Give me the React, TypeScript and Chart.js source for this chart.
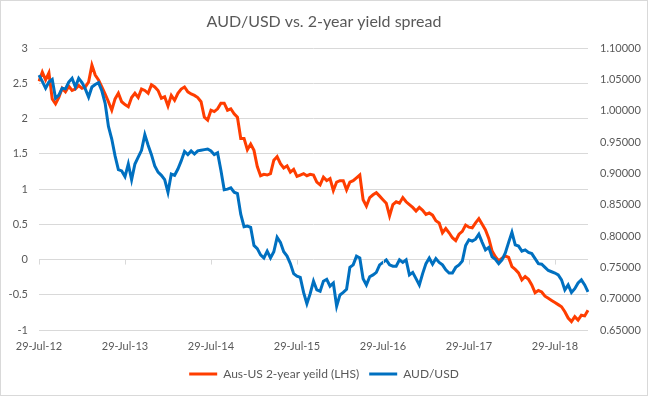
import React, { useEffect, useRef } from 'react';
import { Chart, registerables } from 'chart.js';

Chart.register(...registerables);

// Year tick labels shown on the x axis (every 26 bi-weekly observations)
const tickLabels = ['29-Jul-12', '29-Jul-13', '29-Jul-14', '29-Jul-15', '29-Jul-16', '29-Jul-17', '29-Jul-18'];
const pointsPerTick = 26;

// Aus-US 2-year yield spread (LHS), bi-weekly
const spread = [
  2.53, 2.66, 2.55, 2.65, 2.28, 2.21, 2.30, 2.43, 2.38, 2.46,
  2.40, 2.42, 2.47, 2.43, 2.45, 2.52, 2.76, 2.62, 2.55, 2.45,
  2.35, 2.24, 2.12, 2.28, 2.36, 2.24, 2.20, 2.17, 2.30, 2.36,
  2.30, 2.42, 2.40, 2.36, 2.48, 2.45, 2.40, 2.29, 2.31, 2.18,
  2.33, 2.26, 2.36, 2.42, 2.45, 2.38, 2.35, 2.33, 2.30, 2.24,
  2.02, 1.98, 2.12, 2.10, 2.14, 2.22, 2.22, 2.12, 2.14, 2.07,
  2.02, 1.72, 1.72, 1.56, 1.64, 1.55, 1.32, 1.19, 1.21, 1.20,
  1.22, 1.41, 1.46, 1.36, 1.30, 1.33, 1.24, 1.28, 1.18, 1.20,
  1.22, 1.19, 1.21, 1.20, 1.10, 1.06, 1.17, 1.12, 1.15, 0.98,
  1.10, 1.12, 1.12, 0.99, 1.10, 1.12, 1.16, 1.20, 0.85, 0.76,
  0.88, 0.92, 0.95, 0.90, 0.85, 0.80, 0.62, 0.78, 0.82, 0.80,
  0.88, 0.82, 0.78, 0.74, 0.69, 0.74, 0.70, 0.64, 0.66, 0.63,
  0.55, 0.52, 0.38, 0.44, 0.38, 0.31, 0.27, 0.36, 0.40, 0.49,
  0.46, 0.45, 0.52, 0.58, 0.50, 0.42, 0.30, 0.12, 0.04, -0.02,
  0.02, 0.05, 0.03, -0.10, -0.14, -0.19, -0.29, -0.24, -0.28, -0.36,
  -0.47, -0.44, -0.46, -0.52, -0.55, -0.58, -0.61, -0.64, -0.67, -0.74,
  -0.83, -0.88, -0.81, -0.86, -0.79, -0.80, -0.72,
];

// AUD/USD (RHS), bi-weekly
const audusd = [
  1.057, 1.047, 1.036, 1.046, 1.050, 1.020, 1.025, 1.036, 1.035, 1.046,
  1.052, 1.038, 1.052, 1.045, 1.035, 1.022, 1.038, 1.042, 1.045, 1.032,
  1.012, 0.975, 0.955, 0.928, 0.906, 0.904, 0.895, 0.915, 0.890, 0.915,
  0.926, 0.937, 0.962, 0.945, 0.930, 0.912, 0.902, 0.897, 0.890, 0.870,
  0.899, 0.897, 0.907, 0.920, 0.935, 0.930, 0.936, 0.931, 0.936, 0.937,
  0.938, 0.939, 0.936, 0.930, 0.933, 0.905, 0.874, 0.875, 0.877, 0.870,
  0.868, 0.835, 0.815, 0.816, 0.814, 0.785, 0.780, 0.770, 0.765, 0.776,
  0.765, 0.775, 0.798, 0.790, 0.775, 0.768, 0.756, 0.740, 0.736, 0.734,
  0.710, 0.692, 0.708, 0.728, 0.714, 0.712, 0.728, 0.731, 0.720, 0.725,
  0.688, 0.706, 0.710, 0.715, 0.750, 0.754, 0.768, 0.765, 0.732, 0.722,
  0.735, 0.738, 0.742, 0.754, 0.758, 0.762, 0.754, 0.752, 0.752, 0.762,
  0.758, 0.762, 0.738, 0.742, 0.732, 0.722, 0.740, 0.756, 0.765, 0.755,
  0.764, 0.758, 0.754, 0.746, 0.741, 0.741, 0.750, 0.754, 0.760, 0.785,
  0.794, 0.792, 0.795, 0.803, 0.790, 0.778, 0.782, 0.767, 0.763, 0.756,
  0.762, 0.773, 0.790, 0.806, 0.786, 0.784, 0.776, 0.778, 0.774, 0.772,
  0.764, 0.756, 0.755, 0.750, 0.745, 0.743, 0.741, 0.738, 0.730, 0.714,
  0.722, 0.710, 0.716, 0.725, 0.730, 0.722, 0.711,
];

const categories = spread.map((_, i) => String(i));

const RED = '#FF3D00';
const BLUE = '#0070C0';
const GRID = '#d9d9d9';
const TEXT = '#595959';
const FONT = 'Lato, "Open Sans", sans-serif';

const decorPlugin = {
  id: 'decor',
  afterDraw(chart: any) {
    const ctx = chart.ctx;
    const x = chart.scales.x;
    const y = chart.scales.y;
    const y0 = y.getPixelForValue(0);
    ctx.save();
    ctx.strokeStyle = GRID;
    ctx.lineWidth = 1;
    ctx.beginPath();
    for (let i = 0; i < categories.length; i += pointsPerTick) {
      const px = Math.round(x.getPixelForValue(i)) + 0.5;
      ctx.moveTo(px, y0);
      ctx.lineTo(px, y0 + 5);
    }
    ctx.stroke();
    ctx.strokeRect(0.5, 0.5, chart.width - 1, chart.height - 1);
    ctx.restore();
  },
};

export default function App() {
  const ref = useRef<HTMLCanvasElement | null>(null);

  useEffect(() => {
    if (!ref.current) return;
    const chart = new Chart(ref.current, {
      type: 'line',
      data: {
        labels: categories,
        datasets: [
          {
            label: 'Aus-US 2-year yeild (LHS)',
            data: spread,
            borderColor: RED,
            backgroundColor: RED,
            borderWidth: 3,
            pointRadius: 0,
            tension: 0,
            yAxisID: 'y',
            order: 1,
          },
          {
            label: 'AUD/USD',
            data: audusd,
            borderColor: BLUE,
            backgroundColor: BLUE,
            borderWidth: 3,
            pointRadius: 0,
            tension: 0,
            yAxisID: 'y1',
            order: 0,
          },
        ],
      },
      options: {
        responsive: false,
        animation: false,
        events: [],
        layout: { padding: { top: 0, bottom: 6, left: 0, right: 0 } },
        plugins: {
          title: {
            display: true,
            text: 'AUD/USD vs. 2-year yield spread',
            color: TEXT,
            font: { family: FONT, size: 16, weight: 'normal' },
            padding: { top: 12, bottom: 17 },
          },
          legend: {
            position: 'bottom',
            labels: {
              color: TEXT,
              font: { family: FONT, size: 12 },
              boxWidth: 28,
              boxHeight: 3,
              padding: 10,
              sort: (a: any, b: any) => a.datasetIndex - b.datasetIndex,
              generateLabels: (chart: any) =>
                chart.data.datasets.map((ds: any, i: number) => ({
                  text: ds.label,
                  fillStyle: ds.borderColor,
                  strokeStyle: ds.borderColor,
                  lineWidth: 0,
                  hidden: false,
                  datasetIndex: i,
                  fontColor: TEXT,
                })),
            },
          },
          tooltip: { enabled: false },
        },
        scales: {
          x: {
            type: 'category',
            offset: false,
            grid: { display: false, drawTicks: false },
            border: { display: false },
            ticks: {
              autoSkip: false,
              maxRotation: 0,
              minRotation: 0,
              padding: 10,
              color: TEXT,
              font: { family: FONT, size: 11 },
              callback: (_v: any, i: number) =>
                i % pointsPerTick === 0 ? tickLabels[i / pointsPerTick] : null,
            },
            afterFit: (s: any) => {
              s.height = 28;
            },
          },
          y: {
            position: 'left',
            min: -1,
            max: 3,
            grid: { color: GRID, drawTicks: false },
            border: { display: false },
            ticks: {
              stepSize: 0.5,
              padding: 11,
              color: TEXT,
              font: { family: FONT, size: 11 },
              callback: (v: any) => String(Number(Number(v).toFixed(2))),
            },
            afterFit: (s: any) => {
              s.width = 39;
            },
          },
          y1: {
            position: 'right',
            min: 0.65,
            max: 1.1,
            grid: { display: false, drawTicks: false },
            border: { display: false },
            ticks: {
              stepSize: 0.05,
              padding: 12,
              color: TEXT,
              font: { family: FONT, size: 11 },
              callback: (v: any) => Number(v).toFixed(5),
            },
            afterFit: (s: any) => {
              s.width = 60;
            },
          },
        },
      },
      plugins: [decorPlugin],
    });
    return () => chart.destroy();
  }, []);

  return (
    <div style={{ position: 'absolute', left: 0, top: 0, width: 648, height: 396, background: '#fff' }}>
      <canvas ref={ref} width={648} height={396} style={{ display: 'block' }} />
    </div>
  );
}
